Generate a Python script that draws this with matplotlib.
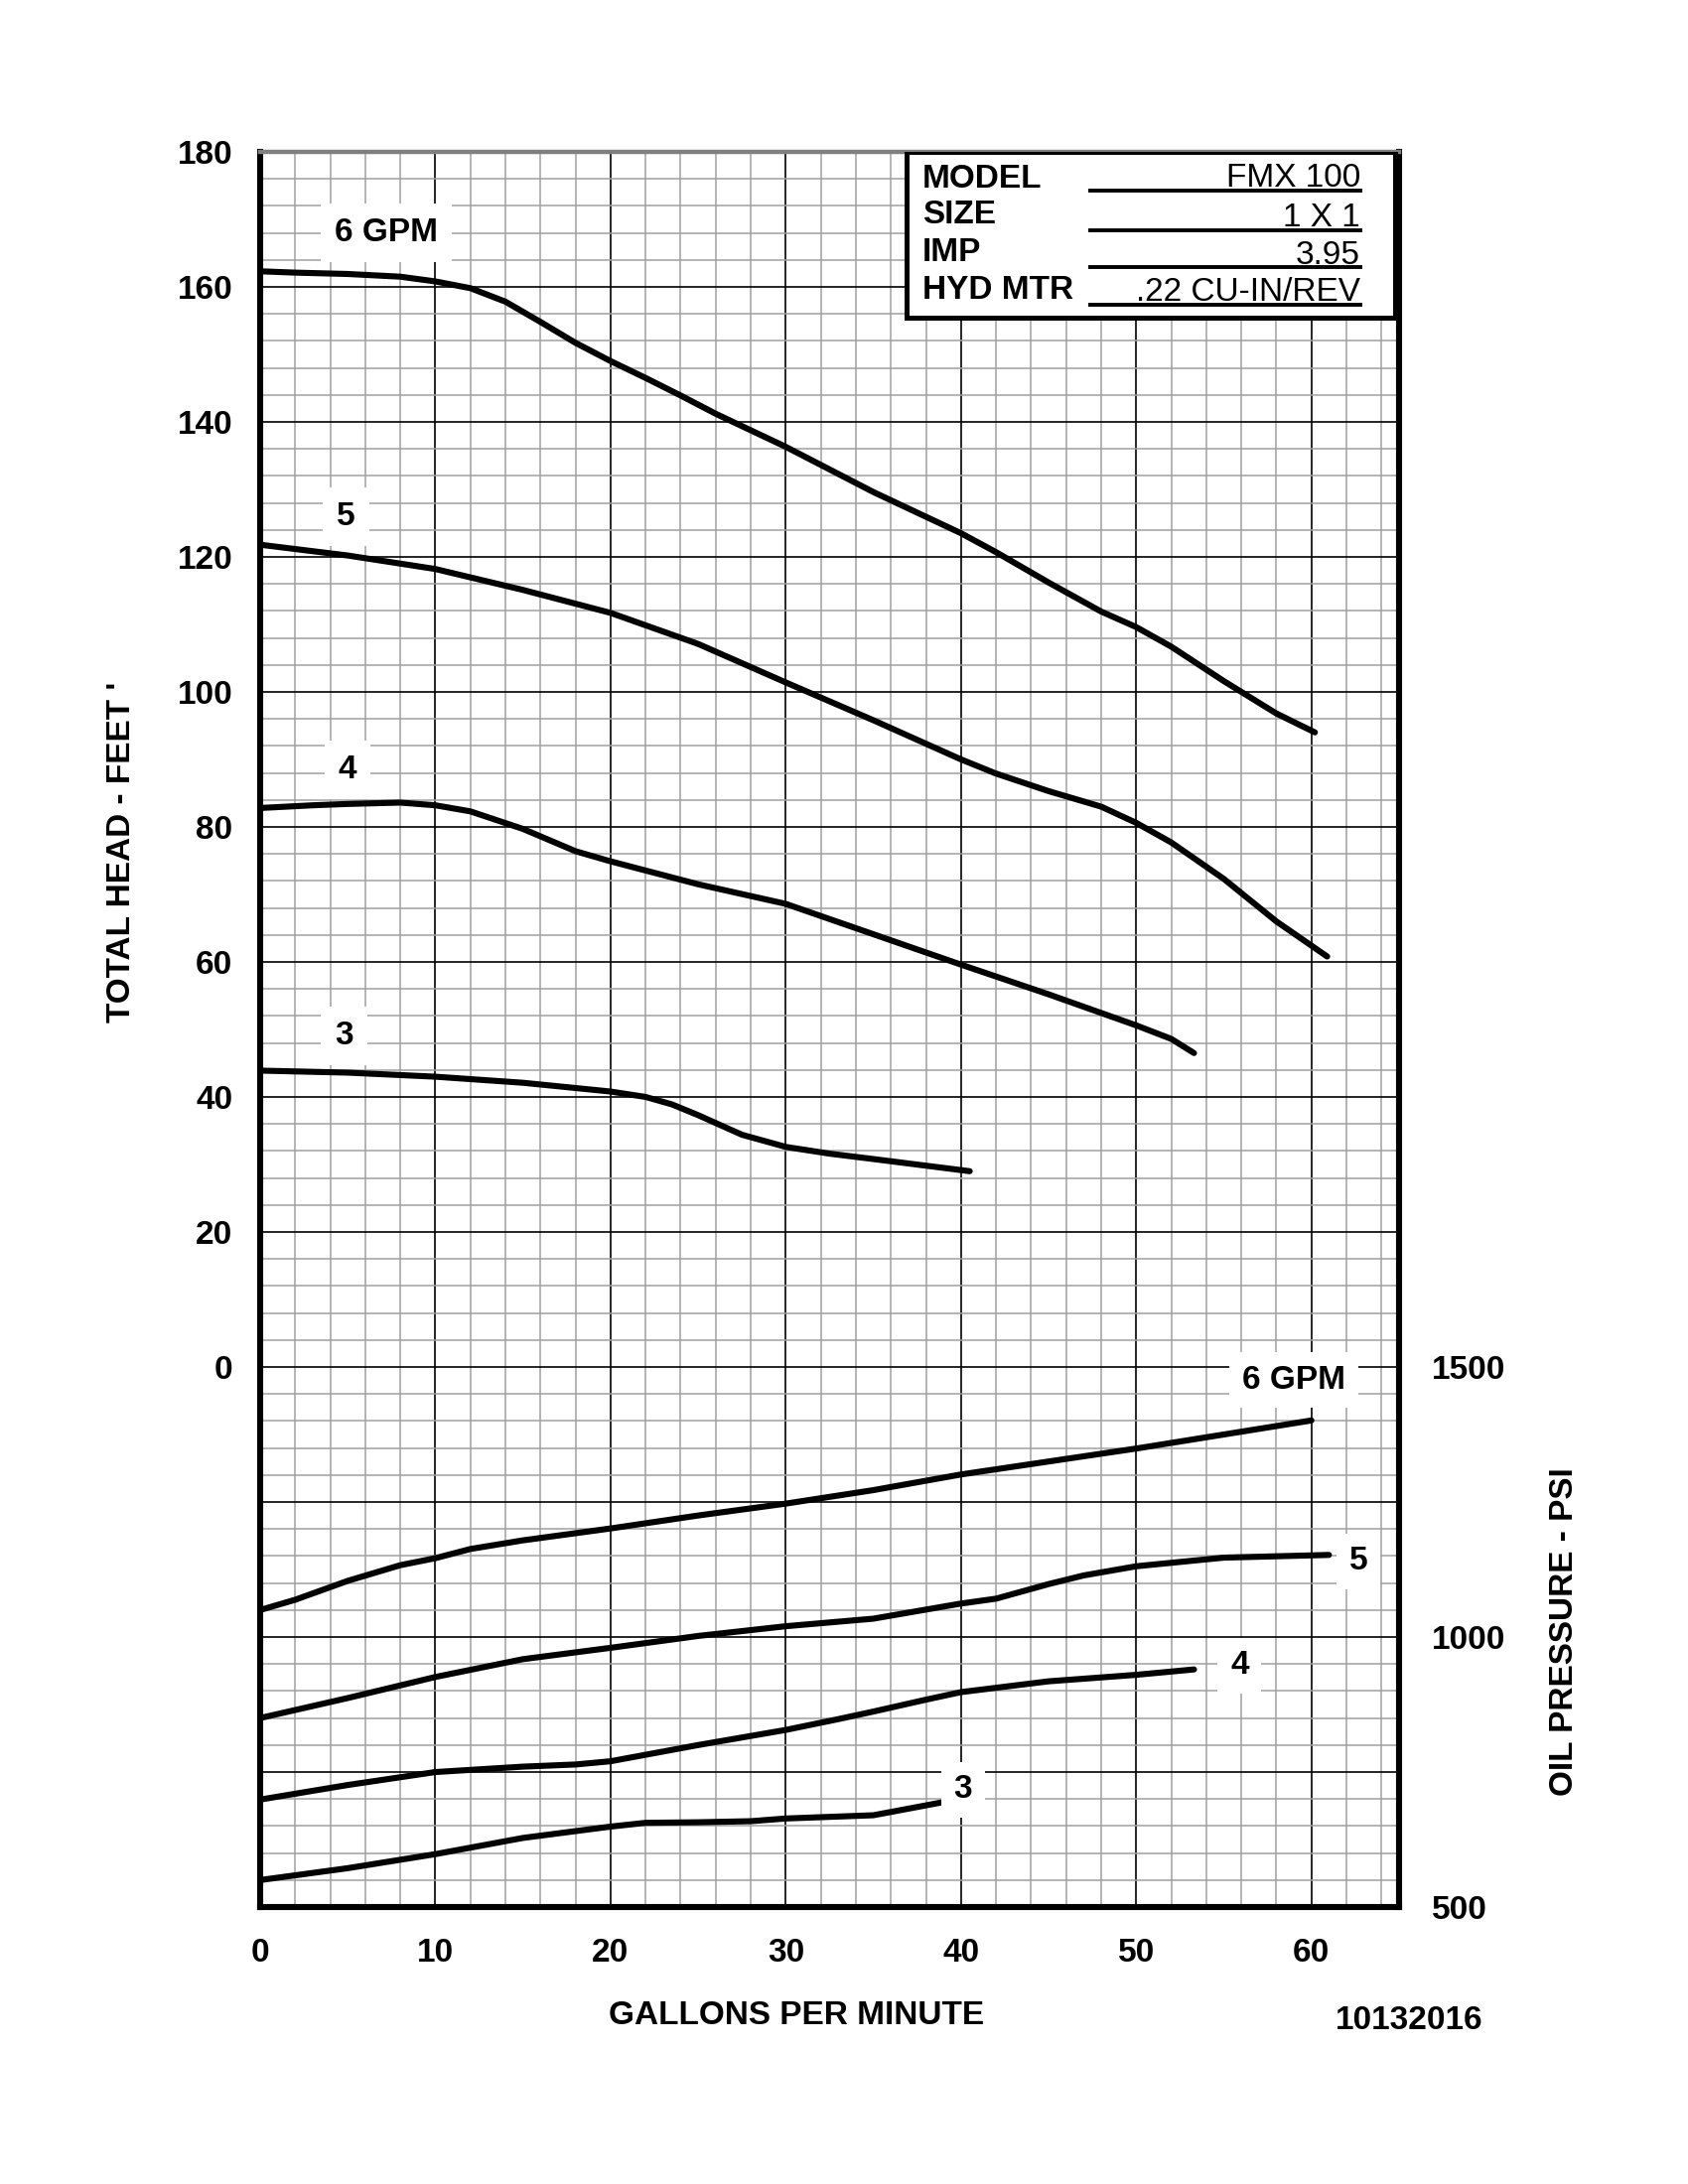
import numpy as np
import matplotlib
matplotlib.use('Agg')
import matplotlib.pyplot as plt
from matplotlib.patches import Rectangle

plt.rcParams['font.family'] = ['Liberation Sans', 'DejaVu Sans']

# head curves (feet) by hydraulic flow
head_6_x = [0, 2, 5, 8, 10, 12, 14, 16, 18, 20, 22, 24, 26, 30, 35, 40, 42, 45, 48, 50, 52, 55, 58, 60.2]
head_6_y = [162.3, 162.1, 161.9, 161.5, 160.8, 159.8, 157.8, 154.8, 151.7, 149.0, 146.5, 143.9, 141.2,
            136.3, 129.6, 123.5, 120.7, 116.2, 111.9, 109.6, 106.7, 101.6, 96.8, 94.0]
head_5_x = [0, 5, 10, 15, 20, 25, 30, 35, 40, 42, 45, 48, 50, 52, 55, 58, 60.9]
head_5_y = [121.8, 120.2, 118.2, 115.1, 111.7, 107.1, 101.4, 95.8, 90.0, 87.9, 85.3, 83.0, 80.6,
            77.7, 72.3, 66.0, 60.8]
head_4_x = [0, 3, 5, 8, 10, 12, 15, 18, 20, 25, 30, 35, 40, 45, 50, 52, 53.3]
head_4_y = [82.8, 83.2, 83.4, 83.6, 83.2, 82.3, 79.7, 76.4, 74.9, 71.5, 68.6, 64.1, 59.6, 55.2, 50.6, 48.6, 46.5]
head_3_x = [0, 5, 10, 15, 20, 22, 23.5, 25, 27.5, 30, 32.5, 35, 40.5]
head_3_y = [43.9, 43.6, 43.0, 42.1, 40.8, 40.0, 38.9, 37.3, 34.4, 32.6, 31.6, 30.8, 29.0]

# oil pressure curves (psi)
psi_6_x = [0, 2, 5, 8, 10, 12, 15, 20, 25, 30, 35, 40, 45, 50, 55, 60]
psi_6_y = [1050, 1069, 1104, 1133, 1146, 1163, 1179, 1201, 1225, 1247, 1272, 1301, 1325, 1349, 1375, 1401]
psi_5_x = [0, 5, 10, 15, 20, 25, 30, 35, 40, 42, 45, 47, 50, 55, 61]
psi_5_y = [850, 887, 926, 959, 980, 1002, 1020, 1034, 1062, 1071, 1098, 1114, 1131, 1147, 1152]
psi_4_x = [0, 5, 10, 15, 18, 20, 22, 25, 30, 33, 35, 38, 40, 45, 50, 53.3]
psi_4_y = [699, 726, 750, 760, 764, 770, 782, 800, 828, 848, 862, 884, 898, 918, 930, 940]
psi_3_x = [0, 5, 10, 15, 20, 22, 25, 28, 30, 35, 39.1]
psi_3_y = [550, 572, 598, 628, 649, 656, 657, 659, 664, 670, 695]

head_labels = ['6 GPM', '5', '4', '3']
head_label_x = [7.2, 4.9, 5.0, 4.8]
head_label_y = [168, 126, 88.5, 49]
psi_labels = ['6 GPM', '5', '4', '3']
psi_label_x = [59.0, 62.7, 55.9, 40.1]
psi_label_y = [1476, 1140, 947, 717]

gpm_ticks = [0, 10, 20, 30, 40, 50, 60]
head_ticks = [-80, -60, -40, -20, 0, 20, 40, 60, 80, 100, 120, 140, 160, 180]
head_tick_labels = ['', '', '', '', '0', '20', '40', '60', '80', '100', '120', '140', '160', '180']
psi_ticks = [500, 1000, 1500]

box_keys = ['MODEL', 'SIZE', 'IMP', 'HYD MTR']
box_values = ['FMX 100', '1 X 1', '3.95', '.22 CU-IN/REV']
box_key_y = [176.0, 170.6, 165.0, 159.4]
box_line_y = [174.3, 168.4, 162.9, 157.4]


def ft_to_psi(ft):
    return 1500 + ft * 12.5


fig = plt.figure(figsize=(8.5, 11), dpi=200)
ax = fig.add_axes([0.1541, 0.1268, 0.6747, 0.8037])
ax.set_xlim(0, 65)
ax.set_ylim(-80, 180)

# grid paper
ax.set_xticks(gpm_ticks)
ax.set_xticks(np.arange(0, 65, 2), minor=True)
ax.set_yticks(head_ticks, labels=head_tick_labels)
ax.set_yticks(np.arange(-80, 181, 4), minor=True)
ax.set_axisbelow(True)
ax.grid(which='minor', color='#a0a0a0', lw=0.55)
ax.grid(which='major', color='black', lw=0.6)
ax.tick_params(which='both', length=0)
ax.tick_params(axis='y', pad=10, labelsize=12)
ax.tick_params(axis='x', pad=11, labelsize=12)
for lab in ax.get_xticklabels() + ax.get_yticklabels():
    lab.set_fontweight('bold')

for side in ['left', 'bottom', 'right']:
    ax.spines[side].set_linewidth(2.2)
    ax.spines[side].set_color('black')
ax.spines['top'].set_linewidth(1.6)
ax.spines['top'].set_color('#808080')

lw = 2.2
ax.plot(head_6_x, head_6_y, color='black', lw=lw, solid_capstyle='round')
ax.plot(head_5_x, head_5_y, color='black', lw=lw, solid_capstyle='round')
ax.plot(head_4_x, head_4_y, color='black', lw=lw, solid_capstyle='round')
ax.plot(head_3_x, head_3_y, color='black', lw=lw, solid_capstyle='round')

for t, x, y in zip(head_labels, head_label_x, head_label_y):
    ax.text(x, y, t, fontsize=12, fontweight='bold', ha='center', va='center',
            bbox=dict(facecolor='white', edgecolor='none', pad=5))

# oil pressure on the twin axis (1500 psi at 0 ft, 500 psi at -80 ft)
ax2 = ax.twinx()
ax2.set_ylim(ft_to_psi(-80), ft_to_psi(180))
ax2.set_yticks(psi_ticks)
ax2.tick_params(length=0, pad=12, labelsize=12)
for lab in ax2.get_yticklabels():
    lab.set_fontweight('bold')
for s in ax2.spines.values():
    s.set_visible(False)

ax2.plot(psi_6_x, psi_6_y, color='black', lw=lw, solid_capstyle='round')
ax2.plot(psi_5_x, psi_5_y, color='black', lw=lw, solid_capstyle='round')
ax2.plot(psi_4_x, psi_4_y, color='black', lw=lw, solid_capstyle='round')
ax2.plot(psi_3_x, psi_3_y, color='black', lw=lw, solid_capstyle='round')

for t, x, y in zip(psi_labels, psi_label_x, psi_label_y):
    ax2.text(x, y, t, fontsize=12, fontweight='bold', ha='center', va='center',
             bbox=dict(facecolor='white', edgecolor='none', pad=4.5))

# model info box, drawn on the top axes so it covers the grid
ax2.add_patch(Rectangle((36.9, ft_to_psi(155.4)), 27.9, 24.6 * 12.5,
                        facecolor='white', edgecolor='black', lw=1.8, zorder=5))
for k, v, ky, ly in zip(box_keys, box_values, box_key_y, box_line_y):
    ax2.text(37.8, ft_to_psi(ky), k, fontsize=12, fontweight='bold', va='center', ha='left', zorder=6)
    ax2.text(62.8, ft_to_psi(ly + 0.5), v, fontsize=12, va='baseline', ha='right', zorder=6)
    ax2.plot([47.4, 62.8], [ft_to_psi(ly)] * 2, color='black', lw=1.4, zorder=6)

fig.text(0.072, 0.610, "TOTAL HEAD - FEET '", rotation=90, fontsize=12, fontweight='bold',
         ha='center', va='center')
fig.text(0.927, 0.253, 'OIL PRESSURE - PSI', rotation=90, fontsize=12, fontweight='bold',
         ha='center', va='center')
fig.text(0.472, 0.077, 'GALLONS PER MINUTE', fontsize=12, fontweight='bold',
         ha='center', va='center')
fig.text(0.835, 0.075, '10132016', fontsize=12, fontweight='bold', ha='center', va='center')

fig.savefig('out.png', dpi=200, facecolor='white')
